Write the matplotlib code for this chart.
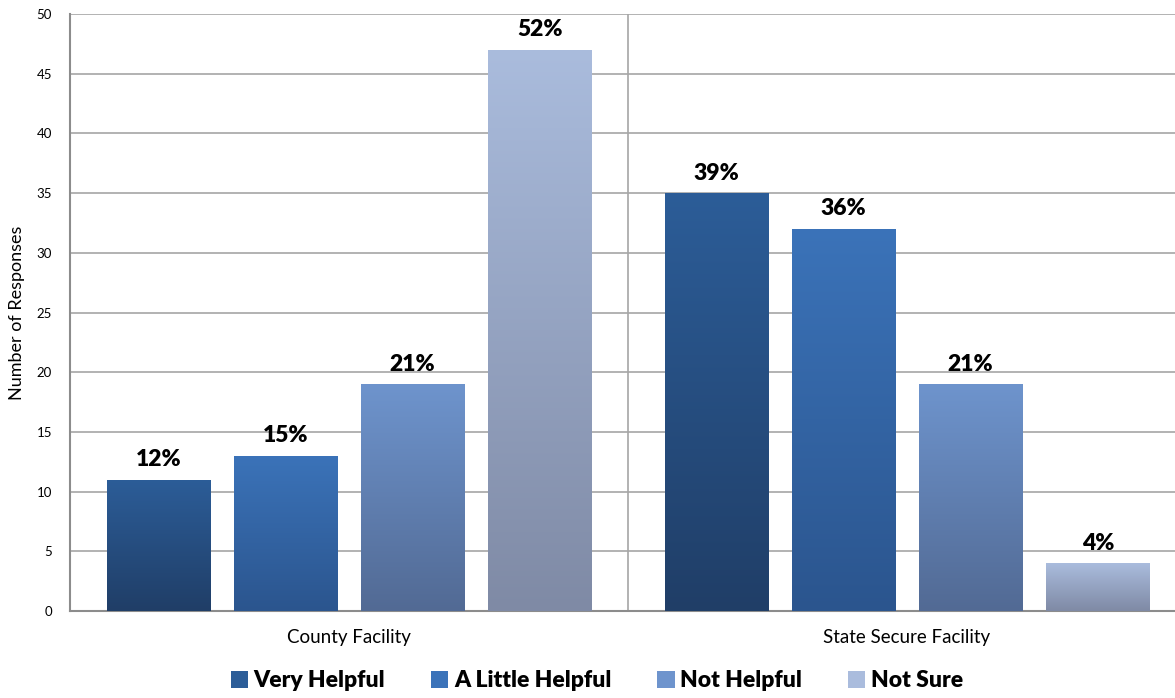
import numpy as np
import matplotlib.pyplot as plt
from matplotlib.colors import LinearSegmentedColormap
from matplotlib.patches import Patch

plt.rcParams['font.family'] = ['Lato', 'DejaVu Sans']

groups = ['County Facility', 'State Secure Facility']
series = ['Very Helpful', 'A Little Helpful', 'Not Helpful', 'Not Sure']
counts = {
    'Very Helpful': [11, 35],
    'A Little Helpful': [13, 32],
    'Not Helpful': [19, 19],
    'Not Sure': [47, 4],
}
pct_labels = {
    'Very Helpful': ['12%', '39%'],
    'A Little Helpful': ['15%', '36%'],
    'Not Helpful': ['21%', '21%'],
    'Not Sure': ['52%', '4%'],
}
# (top, bottom) gradient colours per series
shades = {
    'Very Helpful': ('#2c5d98', '#203e67'),
    'A Little Helpful': ('#3b73b9', '#2b558e'),
    'Not Helpful': ('#6e94cd', '#526a94'),
    'Not Sure': ('#aabcdd', '#7f8aa5'),
}

fig = plt.figure(figsize=(11.75, 6.98), dpi=100)
ax = fig.add_axes([0.0596, 0.1246, 0.9498, 0.8553])

x = np.arange(len(groups))
width = 0.185
step = 0.228
grad = np.linspace(1, 0, 256).reshape(-1, 1)

for i, name in enumerate(series):
    offs = (i - 1.5) * step
    top, bottom = shades[name]
    cmap = LinearSegmentedColormap.from_list(name, [bottom, top])
    bars = ax.bar(x + offs, counts[name], width, color=top, zorder=3)
    for bar, lbl in zip(bars, pct_labels[name]):
        bx, by = bar.get_x(), bar.get_y()
        bw, bh = bar.get_width(), bar.get_height()
        bar.set_facecolor('none')
        bar.set_edgecolor('none')
        im = ax.imshow(grad, cmap=cmap, aspect='auto', zorder=3,
                       extent=[bx, bx + bw, by, by + bh], interpolation='bicubic')
        im.set_clip_path(bar)
        ax.text(bx + bw / 2, bh + 0.8, lbl, ha='center', va='bottom',
                fontsize=16.5, fontweight='heavy', zorder=4)

ax.set_xlim(-0.5, 1.5)
ax.set_ylim(0, 50)
ax.set_yticks(np.arange(0, 51, 5))
ax.set_xticks(x)
ax.set_xticklabels(groups, fontsize=13.5)
ax.tick_params(axis='y', length=0, pad=13, labelsize=9.5)
ax.tick_params(axis='x', length=0, pad=13)
ax.set_ylabel('Number of Responses', fontsize=13, labelpad=8)

ax.grid(True, axis='y', color='#a6a6a6', linewidth=1.2, zorder=0)
ax.axvline(0.5, color='#a6a6a6', linewidth=1.2, zorder=1)
for side in ['top', 'right']:
    ax.spines[side].set_visible(False)
for side in ['left', 'bottom']:
    ax.spines[side].set_color('#8c8c8c')
    ax.spines[side].set_linewidth(1.5)

handles = [Patch(facecolor=shades[s][0], edgecolor='none', label=s) for s in series]
leg = fig.legend(handles=handles, loc='lower center', bbox_to_anchor=(0.508, -0.02),
                 ncol=4, frameon=False, handlelength=0.75, handleheight=0.75,
                 handletextpad=0.25, columnspacing=2.0,
                 prop={'size': 16.5, 'weight': 'heavy'})

fig.savefig('out.png', dpi=100)
